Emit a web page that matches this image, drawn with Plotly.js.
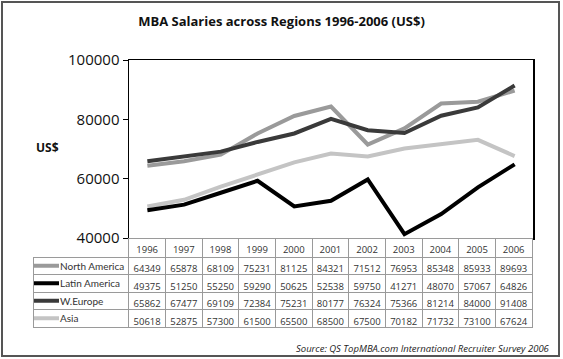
<!DOCTYPE html>
<html><head><meta charset="utf-8">
<script src="https://cdn.plot.ly/plotly-3.0.1.min.js"></script>
<style>body{margin:0;padding:0;background:#fff}#chart{width:563px;height:359px}</style>
</head><body><div id="chart"></div>
<script>
var years = ['1996','1997','1998','1999','2000','2001','2002','2003','2004','2005','2006'];
var seriesNames = ['North America','Latin America','W.Europe','Asia'];
var northAmerica = [64349,65878,68109,75231,81125,84321,71512,76953,85348,85933,89693];
var latinAmerica = [49375,51250,55250,59290,50625,52538,59750,41271,48070,57067,64826];
var wEurope = [65862,67477,69109,72384,75231,80177,76324,75366,81214,84000,91408];
var asia = [50618,52875,57300,61500,65500,68500,67500,70182,71732,73100,67624];
var yTicks = [40000,60000,80000,100000];

var seriesValues = [northAmerica, latinAmerica, wEurope, asia];
var colors = ['#9a9a9a', '#000000', '#3a3a3a', '#c4c4c4'];

var W = 563, H = 359;
function px(x){return x/W;}
function py(y){return 1 - y/H;}

var plotL = 129, plotR = 533, plotT = 60, plotB = 238;
var tabL = 33, headerH = 19, rowH = 17.5;

var traces = [];
var order = [3,0,2,1];
order.forEach(function(i){
  traces.push({
    type:'scatter', mode:'lines', x:years, y:seriesValues[i], name:seriesNames[i],
    line:{color:colors[i], width:4}, hoverinfo:'skip', showlegend:false,
    xaxis:'x', yaxis:'y'
  });
});

var gray = '#9a9a9a';
var legendW = plotL - tabL;
var yearW = (plotR - plotL)/years.length;
var cellCols = [seriesNames.map(function(){return '';})];
years.forEach(function(y, j){
  cellCols.push(seriesValues.map(function(s){return String(s[j]);}));
});
var headerLineColors = ['rgba(0,0,0,0)'].concat(years.map(function(){return gray;}));
var headerFill = ['rgba(0,0,0,0)'].concat(years.map(function(){return '#ffffff';}));
traces.push({
  type:'table',
  domain:{x:[px(tabL), px(plotR)], y:[py(plotB + headerH + rowH*4 + 4), py(plotB)]},
  columnwidth:[legendW].concat(years.map(function(){return yearW;})),
  header:{values:[''].concat(years), height:headerH, align:'center',
    line:{color:headerLineColors, width:1}, fill:{color:headerFill},
    font:{family:'Open Sans, sans-serif', size:9.5, color:'#333'}},
  cells:{values:cellCols, height:rowH, align:'center',
    line:{color:gray, width:1}, fill:{color:'#ffffff'},
    font:{family:'Open Sans, sans-serif', size:9.5, color:'#333'}}
});

var annotations = [];
var shapes = [];
seriesNames.forEach(function(n, i){
  var cy = plotB + headerH + rowH*i + rowH/2;
  annotations.push({xref:'paper', yref:'paper', x:px(58), y:py(cy), xanchor:'left', yanchor:'middle',
    text:n, showarrow:false, font:{family:'Lato, sans-serif', size:10, color:'#333'}});
  shapes.push({type:'line', xref:'paper', yref:'paper', x0:px(34), x1:px(59), y0:py(cy), y1:py(cy),
    line:{color:colors[i], width:4}});
});
annotations.push({xref:'paper', yref:'paper', x:px(47), y:py(147), xanchor:'center', yanchor:'middle',
  text:'<b>US$</b>', showarrow:false, font:{family:'Open Sans, sans-serif', size:12, color:'#111'}});
annotations.push({xref:'paper', yref:'paper', x:px(552), y:py(348), xanchor:'right', yanchor:'middle',
  text:'<i>Source: QS TopMBA.com International Recruiter Survey 2006</i>', showarrow:false,
  font:{family:'Open Sans, sans-serif', size:9.5, color:'#222'}});
shapes.push({type:'rect', xref:'paper', yref:'paper', x0:px(2), x1:px(559), y0:py(2), y1:py(356),
  line:{color:'#555', width:2}});

var layout = {
  width:W, height:H, margin:{l:0,r:0,t:0,b:0},
  paper_bgcolor:'#ffffff', plot_bgcolor:'#ffffff',
  title:{text:'<b>MBA Salaries across Regions 1996-2006 (US$)</b>', x:0.5, xanchor:'center', y:py(21), yanchor:'middle',
    font:{family:'Open Sans, sans-serif', size:13, color:'#111'}},
  xaxis:{domain:[px(plotL), px(plotR)], type:'category', range:[-0.5, 10.5], showticklabels:false,
    ticks:'', showgrid:false, zeroline:false, showline:true, mirror:true, linecolor:'#000', linewidth:1.5},
  yaxis:{domain:[py(plotB), py(plotT)], range:[40000,100000], tickvals:yTicks, ticktext:yTicks.map(String),
    ticks:'outside', ticklen:5, tickcolor:'#000', tickwidth:1, showgrid:false, zeroline:false,
    showline:true, mirror:true, linecolor:'#000', linewidth:1.5,
    tickfont:{family:'Open Sans, sans-serif', size:15, color:'#111'}},
  annotations:annotations, shapes:shapes, showlegend:false
};
Plotly.newPlot('chart', traces, layout, {displayModeBar:false, staticPlot:true});
</script></body></html>
